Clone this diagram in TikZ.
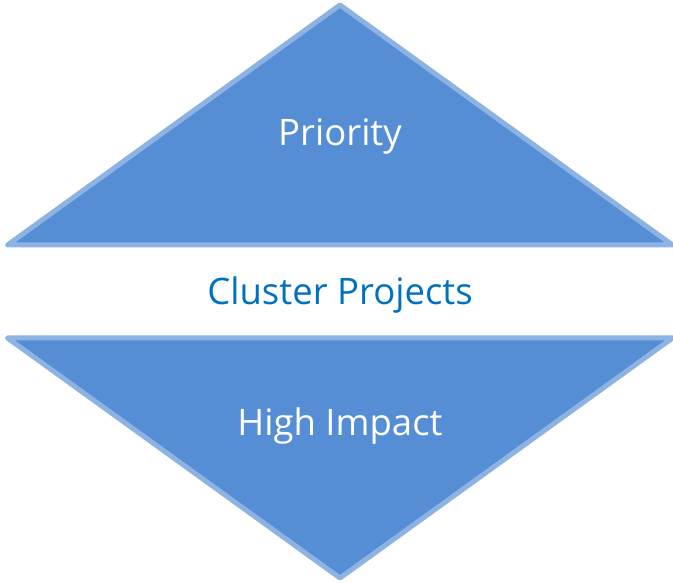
\documentclass[tikz,border=0pt]{standalone}
\usepackage{fontspec}
\setmainfont{Open Sans}
\usepackage{tikz}
\usetikzlibrary{calc,positioning}

\definecolor{triFill}{RGB}{85,142,213}
\definecolor{triEdge}{RGB}{141,179,226}
\definecolor{midText}{RGB}{0,112,192}

\begin{document}
\begin{tikzpicture}[x=1pt,y=1pt]

\tikzset{trishape/.style={fill=triFill,draw=triEdge,line width=5pt,line join=round},
tritext/.style={font=\fontsize{36.5}{40}\selectfont,text=white,anchor=base,inner sep=0},
midlabel/.style={font=\fontsize{36.5}{40}\selectfont,text=midText,anchor=base,inner sep=0}}

\useasboundingbox (0,0) rectangle (673,583);

% Corner points
\coordinate (topApex) at (340,578);
\coordinate (topLeft) at (7.5,338);
\coordinate (topRight) at (672.5,338);
\coordinate (botLeft) at (7.5,245);
\coordinate (botRight) at (672.5,245);
\coordinate (botApex) at (340,5);

% Triangles
\draw[trishape] (topLeft) -- (topApex) -- (topRight) -- cycle;
\draw[trishape] (botLeft) -- (botRight) -- (botApex) -- cycle;

% Labels
\node[tritext] (priority) at (340,437) {Priority};
\node[midlabel] (cluster) at (340,278) {Cluster Projects};
\node[tritext] (impact) at (340,147) {High Impact};
\end{tikzpicture}
\end{document}
